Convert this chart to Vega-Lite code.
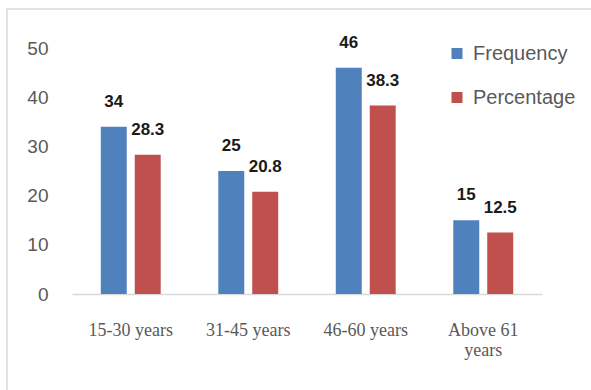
{
  "$schema": "https://vega.github.io/schema/vega-lite/v6.json",
  "autosize": "none",
  "width": 594,
  "height": 391,
  "padding": {"left": 7, "top": 9, "right": -10, "bottom": -10},
  "background": "white",
  "data": {
    "values": [
      {"group": "15-30 years", "series": "Frequency", "value": 34},
      {"group": "15-30 years", "series": "Percentage", "value": 28.3},
      {"group": "31-45 years", "series": "Frequency", "value": 25},
      {"group": "31-45 years", "series": "Percentage", "value": 20.8},
      {"group": "46-60 years", "series": "Frequency", "value": 46},
      {"group": "46-60 years", "series": "Percentage", "value": 38.3},
      {"group": "Above 61 years", "series": "Frequency", "value": 15},
      {"group": "Above 61 years", "series": "Percentage", "value": 12.5}
    ]
  },
  "encoding": {
    "x": {
      "field": "group",
      "type": "nominal",
      "sort": null,
      "title": null,
      "scale": {"range": [65, 535], "paddingInner": 0.49, "paddingOuter": 0.245},
      "axis": {
        "offset": -106,
        "labelAngle": 0,
        "labelFont": "Liberation Serif",
        "labelFontSize": 18,
        "labelColor": "#595959",
        "labelPadding": 27,
        "labelLineHeight": 20,
        "labelExpr": "datum.label == 'Above 61 years' ? ['Above 61', 'years'] : datum.label",
        "ticks": false,
        "tickSize": 0,
        "domainColor": "#D9D9D9",
        "domainWidth": 1.5
      }
    },
    "xOffset": {
      "field": "series",
      "type": "nominal",
      "scale": {"paddingInner": 0.235, "paddingOuter": 0}
    },
    "y": {
      "field": "value",
      "type": "quantitative",
      "title": null,
      "scale": {"domain": [0, 50], "nice": false, "range": [285, 39]},
      "axis": {
        "offset": -65,
        "values": [0, 10, 20, 30, 40, 50],
        "grid": false,
        "domain": false,
        "ticks": false,
        "tickSize": 0,
        "labelFont": "Liberation Sans",
        "labelFontSize": 19,
        "labelColor": "#595959",
        "labelPadding": 24
      }
    }
  },
  "layer": [
    {
      "mark": {"type": "bar"},
      "encoding": {
        "color": {
          "field": "series",
          "type": "nominal",
          "title": null,
          "scale": {"domain": ["Frequency", "Percentage"], "range": ["#4F81BD", "#C0504D"]},
          "legend": {
            "orient": "none",
            "legendX": 440,
            "legendY": 34.5,
            "padding": 0,
            "symbolType": "square",
            "symbolSize": 121,
            "symbolStrokeWidth": 0,
            "symbolOpacity": 1,
            "labelFont": "Liberation Sans",
            "labelFontSize": 20,
            "labelColor": "#595959",
            "labelOffset": 6,
            "rowPadding": 24
          }
        }
      }
    },
    {
      "mark": {
        "type": "text",
        "baseline": "bottom",
        "dy": -16,
        "font": "Liberation Sans",
        "fontSize": 17,
        "fontWeight": "bold",
        "color": "#1a1a1a"
      },
      "encoding": {
        "text": {"field": "value", "type": "quantitative"}
      }
    }
  ],
  "config": {
    "view": {"stroke": "#D9D9D9", "strokeWidth": 1.5}
  }
}
